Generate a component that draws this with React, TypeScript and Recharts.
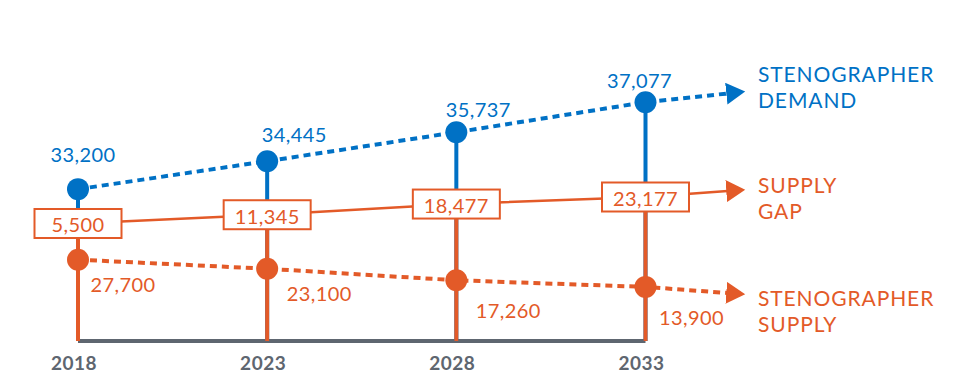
import React from 'react';
import { LineChart, Line, XAxis, YAxis, ReferenceLine } from 'recharts';

const years = [2018, 2023, 2028, 2033];
const demand = [33200, 34445, 35737, 37077];
const gap = [5500, 11345, 18477, 23177];
const supply = [27700, 23100, 17260, 13900];

// where each trend arrow points to (just past 2033)
const arrowYear = 2035.53;
const arrowDemand = 37529;
const arrowGap = 27848;
const arrowSupply = 10303;

const BLUE = '#0071C5';
const ORANGE = '#E35A28';
const GRAY = '#5E6670';
const FONT = 'Lato, "Open Sans", sans-serif';

const W = 962;
const H = 384;
const AXIS_H = 43;
const PLOT_BOTTOM = H - AXIS_H;

// the picture is not drawn to one scale, so every series gets its own hidden axis
const demandDomain = [26432, 41630];
const gapDomain = [-72886, 154599];
const supplyDomain = [-13519, 159314];

// label nudges (px) relative to each point
const demandLabelOffset = [[5, -35], [27, -27], [22, -23], [-6, -22]];
const supplyLabelOffset = [[45, 24], [52, 24], [52, 30], [46, 30]];

const data = [
  ...years.map((year, i) => ({ year, demand: demand[i], gap: gap[i], supply: supply[i] })),
  { year: arrowYear, demand: arrowDemand, gap: arrowGap, supply: arrowSupply, arrow: true },
];

const fmt = (v: number) => v.toLocaleString('en-US');

const DemandDot = (p: any) => {
  if (p.payload.arrow) return <g key={`d-${p.index}`} />;
  const [dx, dy] = demandLabelOffset[p.index];
  return (
    <g key={`d-${p.index}`}>
      <line x1={p.cx} y1={p.cy} x2={p.cx} y2={PLOT_BOTTOM} stroke={BLUE} strokeWidth={4} />
      <circle cx={p.cx} cy={p.cy} r={11} fill={BLUE} />
      <text x={p.cx + dx} y={p.cy + dy} textAnchor="middle" dominantBaseline="central"
        fill={BLUE} fontSize={20} letterSpacing={0.4} fontFamily={FONT}>{fmt(p.value)}</text>
    </g>
  );
};

const GapDot = (p: any) => {
  if (p.payload.arrow) return <g key={`g-${p.index}`} />;
  return (
    <g key={`g-${p.index}`}>
      <line x1={p.cx} y1={p.cy} x2={p.cx} y2={PLOT_BOTTOM} stroke={ORANGE} strokeWidth={4} />
      <rect x={p.cx - 43.5} y={p.cy - 14.5} width={87} height={29} fill="#fff" stroke={ORANGE} strokeWidth={2} />
      <text x={p.cx} y={p.cy + 1} textAnchor="middle" dominantBaseline="central"
        fill={ORANGE} fontSize={20} letterSpacing={0.4} fontFamily={FONT}>{fmt(p.value)}</text>
    </g>
  );
};

const SupplyDot = (p: any) => {
  if (p.payload.arrow) return <g key={`s-${p.index}`} />;
  const [dx, dy] = supplyLabelOffset[p.index];
  return (
    <g key={`s-${p.index}`}>
      <circle cx={p.cx} cy={p.cy} r={11} fill={ORANGE} />
      <text x={p.cx + dx} y={p.cy + dy} textAnchor="middle" dominantBaseline="central"
        fill={ORANGE} fontSize={20} letterSpacing={0.4} fontFamily={FONT}>{fmt(p.value)}</text>
    </g>
  );
};

const Arrow = ({ id, color }: { id: string; color: string }) => (
  <marker id={id} markerWidth={20} markerHeight={22} refX={15} refY={11} orient="auto" markerUnits="userSpaceOnUse">
    <path d="M0,0 L19,11 L0,22 Z" fill={color} />
  </marker>
);

const legendStyle = (top: number, color: string): React.CSSProperties => ({
  position: 'absolute',
  left: 758,
  top,
  color,
  fontFamily: FONT,
  fontSize: 21,
  lineHeight: '26px',
  letterSpacing: 0.9,
  whiteSpace: 'nowrap',
});

export default function App() {
  return (
    <div style={{ position: 'relative', width: W, height: H, background: '#fff' }}>
      <style>{'body{margin:0}'}</style>
      <svg width={0} height={0} style={{ position: 'absolute' }}>
        <defs>
          <Arrow id="arrow-blue" color={BLUE} />
          <Arrow id="arrow-orange" color={ORANGE} />
        </defs>
      </svg>
      <LineChart width={W} height={H} data={data} margin={{ top: 0, right: 203, left: 78, bottom: 0 }}>
        <XAxis
          type="number"
          dataKey="year"
          domain={[2018, 2036]}
          ticks={years}
          axisLine={false}
          tickLine={false}
          tickSize={0}
          tickMargin={16}
          height={AXIS_H}
          tick={{ fill: GRAY, fontSize: 19, fontWeight: 700, fontFamily: FONT, dx: -4, letterSpacing: 0.5 }}
        />
        <YAxis yAxisId="demand" hide domain={demandDomain} />
        <YAxis yAxisId="gap" hide domain={gapDomain} />
        <YAxis yAxisId="supply" hide domain={supplyDomain} />
        <ReferenceLine
          yAxisId="demand"
          segment={[{ x: 2018, y: demandDomain[0] }, { x: 2033, y: demandDomain[0] }]}
          stroke={GRAY}
          strokeWidth={4}
        />
        <Line
          yAxisId="demand"
          dataKey="demand"
          type="linear"
          stroke={BLUE}
          strokeWidth={4}
          strokeDasharray="7 5"
          markerEnd="url(#arrow-blue)"
          dot={DemandDot}
          activeDot={false}
          isAnimationActive={false}
        />
        <Line
          yAxisId="gap"
          dataKey="gap"
          type="linear"
          stroke={ORANGE}
          strokeWidth={2.5}
          markerEnd="url(#arrow-orange)"
          dot={GapDot}
          activeDot={false}
          isAnimationActive={false}
        />
        <Line
          yAxisId="supply"
          dataKey="supply"
          type="linear"
          stroke={ORANGE}
          strokeWidth={4}
          strokeDasharray="7 5"
          markerEnd="url(#arrow-orange)"
          dot={SupplyDot}
          activeDot={false}
          isAnimationActive={false}
        />
      </LineChart>
      <div style={legendStyle(60.5, BLUE)}>STENOGRAPHER<br />DEMAND</div>
      <div style={legendStyle(171.5, ORANGE)}>SUPPLY<br />GAP</div>
      <div style={legendStyle(285, ORANGE)}>STENOGRAPHER<br />SUPPLY</div>
    </div>
  );
}
